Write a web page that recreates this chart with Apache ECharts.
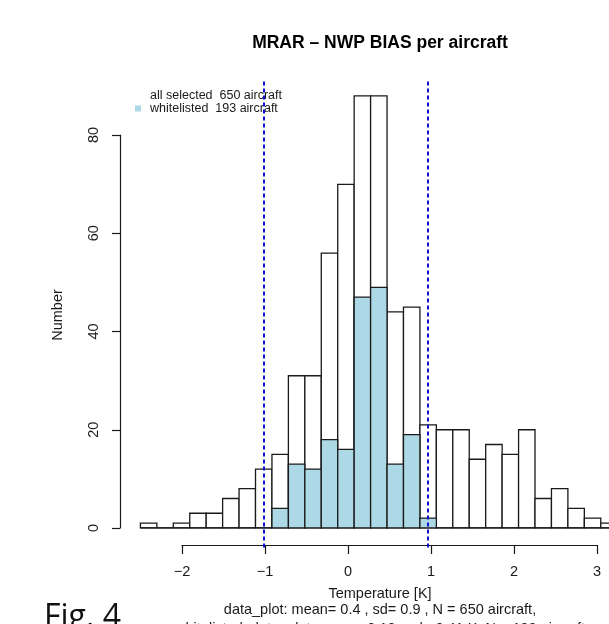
<!DOCTYPE html>
<html>
<head>
<meta charset="utf-8">
<script src="https://cdn.jsdelivr.net/npm/echarts@6/dist/echarts.min.js"></script>
<style>
html,body{margin:0;padding:0;background:#fff}
#chart{width:609px;height:624px}
</style>
</head>
<body>
<div id="chart"></div>
<script>
// histogram breaks (K) and counts per bin
const breaks = [-2.5,-2.3,-2.1,-1.9,-1.7,-1.5,-1.3,-1.1,-0.9,-0.7,-0.5,-0.3,-0.1,0.1,0.3,0.5,0.7,0.9,1.1,1.3,1.5,1.7,1.9,2.1,2.3,2.5,2.7,2.9,3.1,3.3]
const allCounts = [1,0,1,3,3,6,8,12,15,31,31,56,70,88,88,44,45,21,20,20,14,17,15,20,6,8,4,2,1]
const whiteCounts = [0,0,0,0,0,0,0,0,4,13,12,18,16,47,49,13,19,2,0,0,0,0,0,0,0,0,0,0,0]
const limitLines = [-1, 1]
const seriesNames = ['all selected  650 aircraft', 'whitelisted  193 aircraft']
const titleText = 'MRAR \u2013 NWP BIAS per aircraft'
const subLines = [
  'data_plot: mean= 0.4 , sd= 0.9 , N = 650 aircraft,',
  'whitelisted_data_plot: mean= 0.18 , sd= 0.41 K, N = 193 aircraft'
]

const FONT = 'Liberation Sans'
const INK = '#1a1a1a'

function toBins(counts){
  return counts.map((c, i) => [breaks[i], breaks[i + 1], c])
}

// draw one histogram bin as a rect between its breaks
function binRenderer(fill){
  return function(params, api){
    const p0 = api.coord([api.value(0), api.value(2)])
    const p1 = api.coord([api.value(1), 0])
    return {
      type: 'rect',
      shape: {x: p0[0], y: p0[1], width: p1[0] - p0[0], height: p1[1] - p0[1]},
      style: {fill: fill, stroke: INK, lineWidth: 1.3}
    }
  }
}

const minus = v => String(v).replace('-', '\u2212')

let chart = echarts.init(document.getElementById('chart'))
let option = {
  animation: false,
  textStyle: {fontFamily: FONT},
  legend: {
    orient: 'vertical',
    left: 130,
    top: 84,
    itemWidth: 6,
    itemHeight: 6,
    itemGap: 0,
    itemStyle: {borderWidth: 0},
    textStyle: {fontFamily: FONT, fontSize: 12.5, color: INK, lineHeight: 13, padding: [0, 0, 0, 4]},
    data: [{name: seriesNames[0], icon: 'rect'}, {name: seriesNames[1], icon: 'rect'}],
    selectedMode: false
  },
  grid: [
    {left: 132.2, width: 481.4, top: 81.2, height: 466.4},   // data area
    {left: 182, width: 415, top: 500, height: 45},          // x axis
    {left: 120, width: 10, top: 135, height: 393}           // y axis
  ],
  xAxis: [
    {gridIndex: 0, type: 'value', min: -2.6, max: 3.2, show: false},
    {
      gridIndex: 1, type: 'value', min: -2, max: 3, interval: 1,
      axisLine: {show: true, lineStyle: {color: INK, width: 1.2}},
      axisTick: {show: true, length: 9, lineStyle: {color: INK, width: 1.2}},
      axisLabel: {fontSize: 14.5, color: INK, margin: 19, formatter: minus},
      splitLine: {show: false}
    },
    {gridIndex: 2, type: 'value', show: false}
  ],
  yAxis: [
    {gridIndex: 0, type: 'value', min: -4, max: 91, show: false},
    {gridIndex: 1, type: 'value', show: false},
    {
      gridIndex: 2, type: 'value', min: 0, max: 80, interval: 20, position: 'left',
      axisLine: {show: true, lineStyle: {color: INK, width: 1.2}},
      axisTick: {show: true, length: 8, lineStyle: {color: INK, width: 1.2}},
      axisLabel: {fontSize: 14.5, color: INK, rotate: 90, margin: 19},
      splitLine: {show: false}
    }
  ],
  series: [
    {
      name: seriesNames[0],
      type: 'custom',
      xAxisIndex: 0, yAxisIndex: 0,
      itemStyle: {color: '#ffffff'},
      renderItem: binRenderer('#ffffff'),
      encode: {x: [0, 1], y: 2},
      data: toBins(allCounts),
      markLine: {
        silent: true,
        symbol: 'none',
        label: {show: false},
        lineStyle: {color: '#1010d0', width: 2, type: [4, 3]},
        data: limitLines.map(v => ({xAxis: v}))
      }
    },
    {
      name: seriesNames[1],
      type: 'custom',
      xAxisIndex: 0, yAxisIndex: 0,
      itemStyle: {color: '#add8e6'},
      renderItem: binRenderer('#add8e6'),
      encode: {x: [0, 1], y: 2},
      data: toBins(whiteCounts)
    }
  ],
  graphic: [
    {type: 'text', x: 380, y: 43, style: {text: titleText, font: 'bold 17.5px ' + FONT, fill: '#000', align: 'center', verticalAlign: 'middle'}},
    {type: 'text', x: 58, y: 315, rotation: Math.PI / 2, style: {text: 'Number', font: '14.5px ' + FONT, fill: INK, align: 'center', verticalAlign: 'middle'}},
    {type: 'text', x: 380, y: 594, style: {text: 'Temperature [K]', font: '14.5px ' + FONT, fill: INK, align: 'center', verticalAlign: 'middle'}},
    {type: 'text', x: 380, y: 610, style: {text: subLines[0], font: '14.5px ' + FONT, fill: INK, align: 'center', verticalAlign: 'middle'}},
    {type: 'text', x: 380, y: 629, style: {text: subLines[1], font: '14.5px ' + FONT, fill: INK, align: 'center', verticalAlign: 'middle'}},
    {type: 'text', x: 44, y: 602, style: {text: 'Fig. 4', font: '32px "Open Sans"', fill: '#111', align: 'left', verticalAlign: 'top'}}
  ]
}
chart.setOption(option)
</script>
</body>
</html>
